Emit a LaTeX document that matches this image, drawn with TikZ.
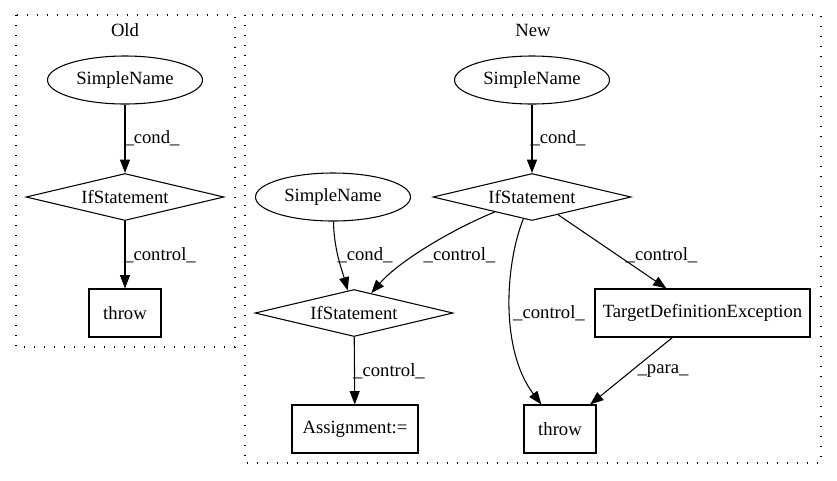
\documentclass[tikz,border=0pt]{standalone}
\usepackage{fontspec}
\setmainfont{Liberation Serif}
\usetikzlibrary{shapes.geometric,arrows.meta}
\begin{document}
\begin{tikzpicture}[x=0.75pt,y=-0.75pt,
  every node/.style={font=\fontsize{14pt}{16pt}\selectfont},
  cluster/.style={draw,line width=1pt,dash pattern=on 1pt off 6.5pt},
  ell/.style={draw,ellipse,line width=0.8pt,minimum width=155*0.75pt,minimum height=48*0.75pt,inner sep=0pt},
  dia/.style={draw,diamond,aspect=4.2,line width=0.8pt,minimum width=198*0.75pt,minimum height=47*0.75pt,inner sep=0pt},
  boxnode/.style={draw,rectangle,line width=0.8pt,minimum height=48*0.75pt,inner sep=0pt},
  edge/.style={line width=0.8pt,-{Triangle[length=10pt,width=7.5pt]}},
  lbl/.style={inner sep=0pt}
]
\useasboundingbox (0,0) rectangle (837,480);
% clusters
\draw[cluster] (16,15) rectangle (235,347);
\draw[cluster] (245,15) rectangle (821,463);
\node[lbl] (oldlab) at (125,30) {Old};
\node[lbl] (newlab) at (533,30) {New};
% Old
\node[ell] (sno) at (125,80) {SimpleName};
\node[dia] (ifo) at (125,197) {IfStatement};
\node[boxnode,minimum width=72*0.75pt] (tho) at (125,313) {throw};
\draw[edge] (sno) -- (ifo) node[lbl] (l1) at (152,138) {\_cond\_};
\draw[edge] (ifo) -- (tho) node[lbl] (l2) at (160,255) {\_control\_};
% New
\node[ell] (snt) at (532,80) {SimpleName};
\node[dia] (ift) at (532,197) {IfStatement};
\node[ell] (snl) at (333,197) {SimpleName};
\node[dia] (ifl) at (354,313) {IfStatement};
\node[boxnode,minimum width=126*0.75pt] (asg) at (355,429) {Assignment:=};
\node[boxnode,minimum width=215*0.75pt] (tde) at (702.5,313) {TargetDefinitionException};
\node[boxnode,minimum width=72*0.75pt] (thn) at (560,429) {throw};
\draw[edge] (snt) -- (ift) node[lbl] (l3) at (558,138) {\_cond\_};
\draw[edge] (ift) .. controls (455,228) and (400,260) .. (ifl);
\node[lbl] (l4) at (459.5,255) {\_control\_};
\draw[edge] (ift) .. controls (505,265) and (500,350) .. (thn);
\node[lbl] (l5) at (549,313) {\_control\_};
\draw[edge] (ift) -- (tde) node[lbl] (l6) at (661.5,255) {\_control\_};
\draw[edge] (tde) -- (thn) node[lbl] (l7) at (663,371) {\_para\_};
\draw[edge] (snl) .. controls (334,250) and (342,270) .. (ifl);
\node[lbl] (l8) at (365,255) {\_cond\_};
\draw[edge] (ifl) -- (asg) node[lbl] (l9) at (389,371) {\_control\_};
\end{tikzpicture}
\end{document}
